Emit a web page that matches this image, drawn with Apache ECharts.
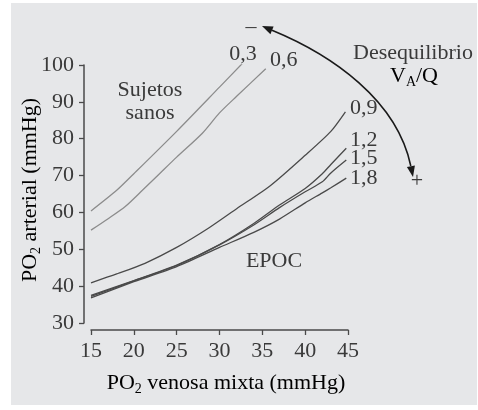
<!DOCTYPE html>
<html>
<head>
<meta charset="utf-8">
<script src="https://cdn.jsdelivr.net/npm/echarts@6/dist/echarts.min.js"></script>
<style>
html,body{margin:0;padding:0;background:#fff;}
#c{width:478px;height:410px;}
</style>
</head>
<body>
<div id="c"></div>
<script>
// x = PO2 venosa mixta (mmHg), y = PO2 arterial (mmHg)
const xTicks = [15, 20, 25, 30, 35, 40, 45];
const yTicks = [30, 40, 50, 60, 70, 80, 90, 100];
const seriesNames = ['0,3', '0,6', '0,9', '1,2', '1,5', '1,8'];
const s03 = [[15, 60.4], [18, 66], [20, 70.5], [25, 82], [30, 94], [32.7, 100.5]];
const s06 = [[15, 55.2], [17, 58.3], [19, 61.6], [21, 66], [23, 70.5], [25, 75], [28, 81.5], [30, 87], [32, 91.5], [35.4, 99]];
const s09 = [[15, 40.9], [18, 43.3], [21.3, 46.2], [25, 50.5], [28.7, 55.7], [32, 61], [36, 67.4], [40, 75.5], [43, 82], [44.7, 87.3]];
const s12 = [[15, 37.5], [20, 41.5], [25, 45.7], [30, 51.3], [34, 57], [37, 62], [40, 66.5], [42, 70.5], [43, 73], [44.8, 77.4]];
const s15 = [[15, 37.2], [20, 41.4], [25, 45.6], [30, 51.2], [34, 56.6], [37, 61.3], [40, 65.6], [42, 68.3], [43, 70.7], [44.8, 74.2]];
const s18 = [[15, 36.8], [20, 41.2], [25, 45.3], [30, 50.5], [34, 54.6], [37, 58.2], [40, 62.6], [42, 65.3], [43, 66.7], [44.8, 69.3]];

const FONT = 'Liberation Serif';
const FS = 22;
const TXT = '#3a3a3a';
const light = '#8c8c8c', dark = '#4a4a4a';

function mk(name, data, color) {
  return {
    name: name, type: 'line', data: data, smooth: 0.25, symbol: 'none',
    lineStyle: {color: color, width: 1.3}, silent: true, animation: false
  };
}

const chart = echarts.init(document.getElementById('c'));
const richMain = {
  a: {fontFamily: FONT, fontSize: FS, color: TXT, lineHeight: 27},
  s: {fontFamily: FONT, fontSize: 14, color: TXT, lineHeight: 15, verticalAlign: 'bottom'}
};
function txt(text, x, y, align) {
  return {
    type: 'text', x: x, y: y, silent: true,
    style: {text: text, fontFamily: FONT, fontSize: FS, fill: TXT, align: align || 'center', verticalAlign: 'middle'}
  };
}

const option = {
  animation: false,
  backgroundColor: '#ffffff',
  grid: {left: 91, right: 130, top: 65, bottom: 87},
  xAxis: {
    type: 'value', min: xTicks[0], max: xTicks[xTicks.length - 1], interval: 5, offset: 7,
    axisLine: {lineStyle: {color: '#4a4a4a', width: 1.5}},
    axisTick: {length: 5, lineStyle: {color: '#4a4a4a', width: 1.3}},
    axisLabel: {fontFamily: FONT, fontSize: FS, color: TXT, margin: 10},
    splitLine: {show: false}
  },
  yAxis: {
    type: 'value', min: yTicks[0], max: yTicks[yTicks.length - 1], interval: 10, offset: 7,
    axisLine: {show: true, lineStyle: {color: '#4a4a4a', width: 1.5}},
    axisTick: {show: true, length: 5, lineStyle: {color: '#4a4a4a', width: 1.3}},
    axisLabel: {fontFamily: FONT, fontSize: FS, color: TXT, margin: 10},
    splitLine: {show: false}
  },
  series: [
    mk(seriesNames[0], s03, light),
    mk(seriesNames[1], s06, light),
    mk(seriesNames[2], s09, dark),
    mk(seriesNames[3], s12, dark),
    mk(seriesNames[4], s15, dark),
    mk(seriesNames[5], s18, dark)
  ],
  graphic: [
    {type: 'rect', z: -10, silent: true, shape: {x: 11, y: 3, width: 466, height: 402}, style: {fill: '#e6e7e9'}},
    {type: 'text', x: 226, y: 383, silent: true,
      style: {text: '{a|PO}{s|2}{a| venosa mixta (mmHg)}', rich: richMain, align: 'center', verticalAlign: 'middle'}},
    {type: 'text', x: 30, y: 190, rotation: Math.PI / 2, silent: true,
      style: {text: '{a|PO}{s|2}{a| arterial (mmHg)}', rich: richMain, align: 'center', verticalAlign: 'middle'}},
    txt('Sujetos', 150, 90),
    txt('sanos', 150, 113),
    txt('EPOC', 274, 261),
    txt('Desequilibrio', 413, 53),
    {type: 'text', x: 414, y: 76, silent: true,
      style: {text: '{a|V}{s|A}{a|/Q}', rich: richMain, align: 'center', verticalAlign: 'middle'}},
    txt('\u2013', 251, 27),
    txt('+', 417, 181),
    txt(seriesNames[0], 243, 54),
    txt(seriesNames[1], 270, 60, 'left'),
    txt(seriesNames[2], 350, 108, 'left'),
    txt(seriesNames[3], 350, 140, 'left'),
    txt(seriesNames[4], 350, 158, 'left'),
    txt(seriesNames[5], 350, 178, 'left'),
    {type: 'bezierCurve', silent: true,
      shape: {x1: 272, y1: 30.3, cpx1: 332, cpy1: 55, cpx2: 397, cpy2: 100, x2: 410.8, y2: 166},
      style: {stroke: '#1a1a1a', lineWidth: 1.6, fill: null}},
    {type: 'polygon', silent: true, shape: {points: [[262, 26], [273.6, 26.4], [270.4, 34.2]]}, style: {fill: '#1a1a1a'}},
    {type: 'polygon', silent: true, shape: {points: [[413, 177], [414.9, 165.4], [406.9, 167]]}, style: {fill: '#1a1a1a'}}
  ]
};
chart.setOption(option);
</script>
</body>
</html>
